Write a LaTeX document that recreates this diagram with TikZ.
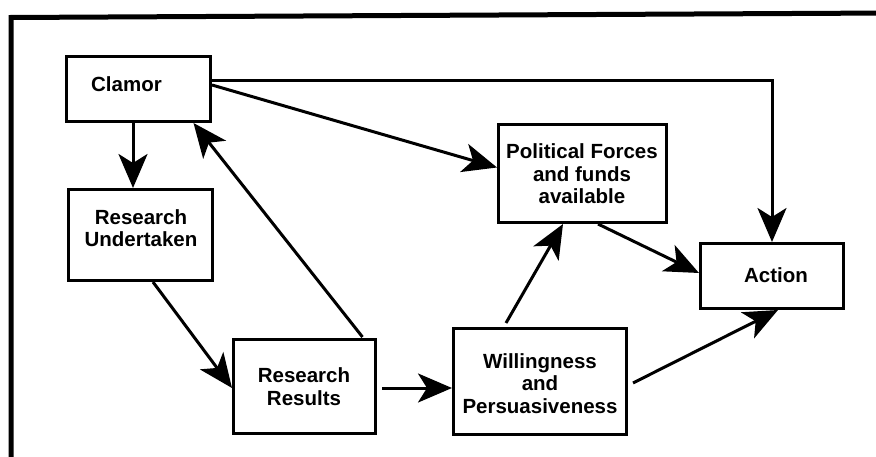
\documentclass[tikz,border=0pt]{standalone}
\usepackage{fontspec}
\setmainfont{Liberation Sans}
\usetikzlibrary{arrows.meta}
\begin{document}
\begin{tikzpicture}[x=1pt,y=-1pt,
  box/.style={draw, line width=3pt, inner sep=0pt},
  txt/.style={font=\bfseries\fontsize{20.5}{22.5}\selectfont, align=center, anchor=base, inner sep=0pt},
  flow/.style={line width=3pt, -{Stealth[length=34pt,width=29pt,inset=9pt]}}]
\useasboundingbox (0,0) rectangle (876,457);
\clip (0,0) rectangle (876,457);
% frame
\draw[line width=5pt] (11,470) -- (11,17.5) -- (890,13);
% boxes
\node[box, minimum width=144pt, minimum height=65pt] (clamor) at (138.5,89) {};
\node[box, minimum width=144pt, minimum height=91pt] (under) at (140.5,235) {};
\node[box, minimum width=142pt, minimum height=94pt] (results) at (304.5,386.5) {};
\node[box, minimum width=173pt, minimum height=106pt] (willing) at (540,381.5) {};
\node[box, minimum width=168pt, minimum height=98pt] (political) at (582.5,173.5) {};
\node[box, minimum width=143pt, minimum height=65pt] (action) at (772,276) {};
% labels (base = baseline of the last line)
\node[txt] (tclamor) at (126.5,92) {Clamor};
\node[txt] (tunder) at (141,247) {Research\\Undertaken};
\node[txt] (tresults) at (304,405) {Research\\Results};
\node[txt] (twilling) at (540,413) {Willingness\\and\\Persuasiveness};
\node[txt] (tpolitical) at (582,204) {Political Forces\\and funds\\available};
\node[txt] (taction) at (776,283) {Action};
% connectors
\draw[flow] ([xshift=-5.5pt]clamor.south) -- ([xshift=-7.5pt]under.north);
\draw[flow] ([yshift=8pt]clamor.east) -| (action.north);
\draw[flow] ([yshift=4pt]clamor.east) -- ([yshift=6pt]political.west);
\draw[flow] ([xshift=58pt,yshift=1pt]results.north) -- ([xshift=55pt]clamor.south);
\draw[flow] ([xshift=12.5pt]under.south) -- ([yshift=-1.5pt]results.west);
\draw[flow] ([xshift=5pt,yshift=-1.5pt]results.east) -- ([yshift=-6.5pt]willing.west);
\draw[flow] ([xshift=-34pt,yshift=4pt]willing.north) -- ([xshift=-19.5pt]political.south);
\draw[flow] ([xshift=15.5pt]political.south) -- ([yshift=3pt]action.west);
\draw[flow] ([xshift=5pt,yshift=-1.5pt]willing.east) -- ([xshift=6pt]action.south);
\end{tikzpicture}
\end{document}
